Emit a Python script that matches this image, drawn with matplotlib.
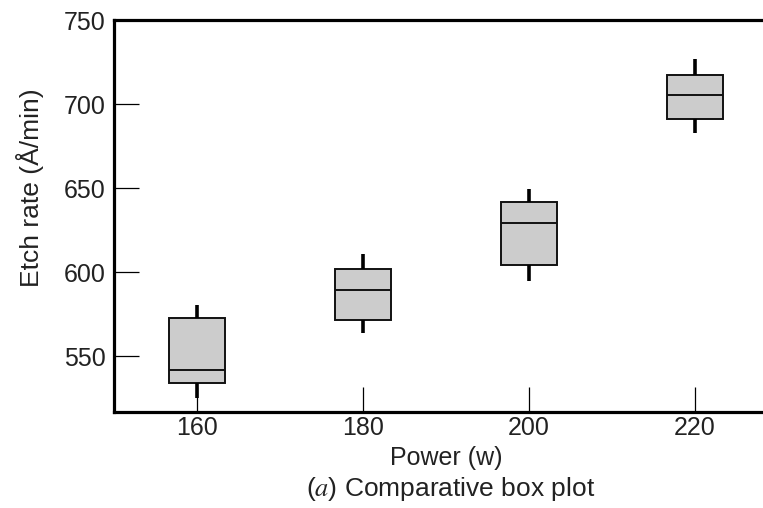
import matplotlib
matplotlib.use("Agg")
import matplotlib.pyplot as plt

# Data
power = [160, 180, 200, 220]
whisker_low = [524.8, 563.6, 594.9, 683.0]
q1 = [533.7, 571.5, 604.2, 691.1]
median = [541.7, 589.4, 629.4, 705.6]
q3 = [572.4, 601.8, 641.9, 717.3]
whisker_high = [580.4, 610.8, 649.4, 726.6]
yticks = [550, 600, 650, 700, 750]

plt.rcParams['font.family'] = ['Liberation Sans', 'DejaVu Sans']
plt.rcParams['mathtext.fontset'] = 'stix'

fig = plt.figure(figsize=(7.63, 5.08), dpi=100)
ax = fig.add_axes([0.1494, 0.189, 0.870, 0.7716])

stats = []
for i in range(len(power)):
    stats.append(dict(whislo=whisker_low[i], q1=q1[i], med=median[i],
                      q3=q3[i], whishi=whisker_high[i], fliers=[]))

ax.bxp(stats, positions=power, widths=6.8, patch_artist=True,
       showcaps=False, showfliers=False,
       boxprops=dict(facecolor='#cccccc', edgecolor='#111111', linewidth=1.4),
       medianprops=dict(color='#111111', linewidth=1.4),
       whiskerprops=dict(color='black', linewidth=2.6, solid_capstyle='butt'),
       manage_ticks=False, zorder=3)

ax.set_xlim(150, 230)
ax.set_ylim(516.7, 750)
ax.set_xticks(power)
ax.set_yticks(yticks)
ax.set_xticklabels([str(p) for p in power])
ax.set_yticklabels([str(y) for y in yticks])

ax.tick_params(axis='both', direction='in', length=18, width=0.9,
               labelsize=18, colors='black', labelcolor='#222222')
ax.tick_params(axis='y', pad=6)
ax.tick_params(axis='x', pad=3)

for side in ['left', 'top', 'bottom', 'right']:
    ax.spines[side].set_linewidth(2.3)
ax.spines['right'].set_visible(False)

ax.set_xlabel('Power (w)', fontsize=18, color='#222222', labelpad=4)
ax.set_ylabel('Etch rate (Å/min)', fontsize=19, color='#222222')
ax.yaxis.set_label_coords(-0.105, 0.571)

fig.text(451 / 763, 1 - 489 / 508, '($a$) Comparative box plot',
         ha='center', va='center', fontsize=19, color='#222222')

fig.savefig('out.png', dpi=100)
